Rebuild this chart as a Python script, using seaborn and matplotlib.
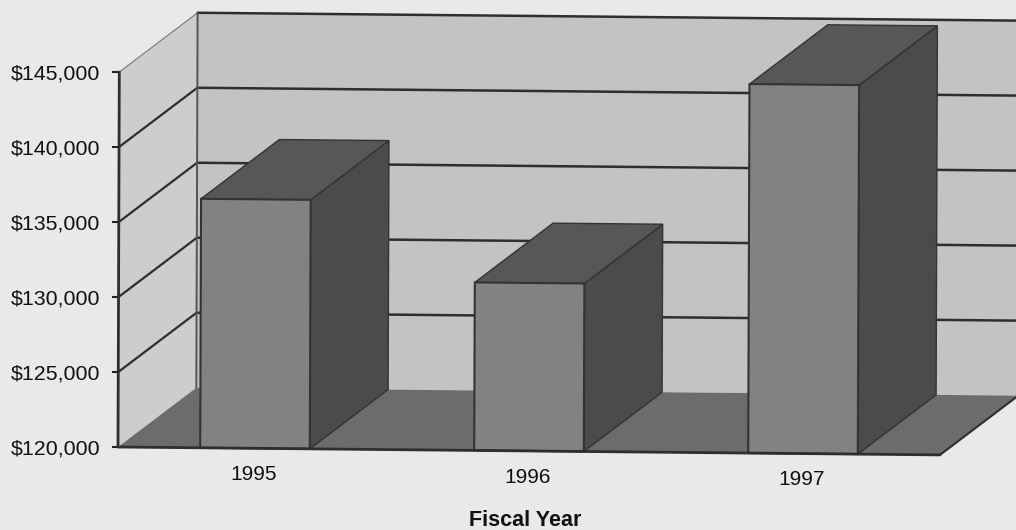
import pandas as pd
import seaborn as sns
import matplotlib.pyplot as plt
from matplotlib.patches import Polygon
from matplotlib.transforms import Affine2D

years = ['1995', '1996', '1997']
revenue = [136600, 131200, 144600]
y_ticks = [120000, 125000, 130000, 135000, 140000, 145000]
y_labels = ['$120,000', '$125,000', '$130,000', '$135,000', '$140,000', '$145,000']

W, H = 1016, 530
Y0, Y1 = 120000, 145000
X0, X1 = -0.5, 2.5
# depth of the fake 3d box, in data units
DX = 0.285
DY = 4000
BAR = 0.4

sns.set_theme(style='white')
plt.rcParams['font.family'] = ['Liberation Sans', 'DejaVu Sans']

df = pd.DataFrame({'year': years, 'revenue': revenue})

fig = plt.figure(figsize=(W / 100, H / 100), dpi=100, facecolor='#e9e9e9')
ax = fig.add_axes([118 / W, (H - 447) / H, 822 / W, 375 / H])
ax.patch.set_visible(False)

sns.barplot(data=df, x='year', y='revenue', color='#828282', width=BAR,
            saturation=1, edgecolor='#333333', linewidth=1.5, ax=ax, zorder=5)
ax.set_xlim(X0, X1)
ax.set_ylim(Y0, Y1)

# the scan is a little crooked
crooked = Affine2D().translate(-118, -(H - 447)).skew_deg(0.2, -0.55).translate(118, H - 447)
tr = ax.transData + crooked


def poly(pts, color, z, edge='none', lw=0):
    ax.add_patch(Polygon(pts, closed=True, facecolor=color, edgecolor=edge, linewidth=lw,
                         transform=tr, clip_on=False, zorder=z))


def line(xs, ys, z=2, lw=2, color='#2e2e2e'):
    ax.plot(xs, ys, color=color, lw=lw, transform=tr, clip_on=False, zorder=z)


# side wall, back wall, floor
poly([(X0, Y0), (X0 + DX, Y0 + DY), (X0 + DX, Y1 + DY), (X0, Y1)], '#cdcdcd', 1)
poly([(X0 + DX, Y0 + DY), (X1 + DX, Y0 + DY), (X1 + DX, Y1 + DY), (X0 + DX, Y1 + DY)], '#c3c3c3', 1)
poly([(X0, Y0), (X1, Y0), (X1 + DX, Y0 + DY), (X0 + DX, Y0 + DY)], '#6c6c6c', 3)

for t in y_ticks[1:]:
    line([X0, X0 + DX], [t, t + DY], lw=1.6 if t < Y1 else 0.8, color='#2e2e2e' if t < Y1 else '#777777')
    line([X0 + DX, X1 + DX], [t + DY, t + DY], lw=1.8)
line([X0 + DX, X0 + DX], [Y0 + DY, Y1 + DY], lw=1.4, color='#555555')
line([X0, X1], [Y0, Y0], z=7, lw=2)
line([X0, X0], [Y0, Y1], z=7, lw=2)
line([X1, X1 + DX], [Y0, Y0 + DY], z=4, lw=1.5)

# bars come from seaborn, only the base and the 3d faces get added
for i, p in enumerate(ax.patches[:3]):
    v = revenue[i]
    p.set_y(Y0)
    p.set_height(v - Y0)
    p.set_transform(tr)
    p.set_clip_on(False)
    l = i - BAR / 2
    r = i + BAR / 2
    poly([(r, Y0), (r + DX, Y0 + DY), (r + DX, v + DY), (r, v)], '#4b4b4b', 4, '#333333', 1)
    poly([(l, v), (r, v), (r + DX, v + DY), (l + DX, v + DY)], '#575757', 4, '#333333', 1)
    ax.text(i - 0.005, Y0 - 1750, years[i], transform=tr, ha='center', va='center',
            fontsize=15, color='#111111', clip_on=False)

ax.set_xticks([])
ax.set_yticks(y_ticks, y_labels, fontsize=15.4, color='#111111')
ax.tick_params(axis='y', left=True, length=4, width=1.5, color='#222222', pad=8.5)
ax.set_xlabel('')
ax.set_ylabel('')
sns.despine(ax=ax, left=True, bottom=True)
fig.text(525 / W, (H - 520.5) / H, 'Fiscal Year', ha='center', va='center',
         fontsize=15.5, fontweight='bold', color='#111111')

fig.savefig('out.png', dpi=100, facecolor=fig.get_facecolor())
